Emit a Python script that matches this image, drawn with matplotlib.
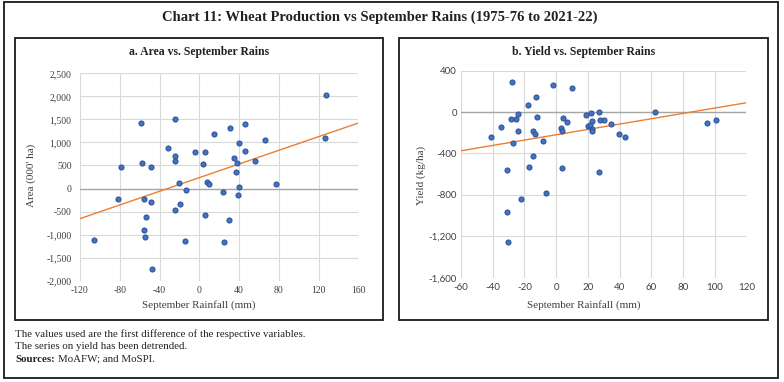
import matplotlib
matplotlib.use("Agg")
import matplotlib.pyplot as plt
from matplotlib.patches import Rectangle
from matplotlib.ticker import FuncFormatter
import numpy as np

plt.rcParams["axes.unicode_minus"] = False

# a. Area vs September rains (first differences)
area_rain = [-105.6, -81.4, -79.1, -58.6, -58.0, -55.3, -53.6, -55.6, -55.0, -48.2,
             -48.2, -47.2, -31.8, -24.4, -24.8, -24.4, -24.4, -20.4, -19.7, -13.0,
             -14.0, -4.3, 4.1, 6.1, 5.8, 7.8, 9.8, 14.8, 24.2, 25.2,
             30.2, 31.2, 34.6, 36.6, 37.6, 39.3, 40.0, 40.0, 45.7, 46.3,
             55.7, 65.8, 76.8, 126.1, 127.1]
area_chg = [-1110, -235, 467, 1422, 554, -220, -611, -908, -1052, 467,
            -293, -1754, 872, 1509, 706, 604, -474, 127, -336, -40,
            -1139, 792, 532, 800, -568, 134, 105, 1183, -68, -1154,
            -691, 1321, 662, 366, 554, -134, 988, 40, 821, 1393,
            604, 1046, 91, 1096, 2030]

# b. Yield vs September rains (detrended)
yield_rain = [-41.3, -34.6, -28.7, -27.9, -27.3, -25.6, -24.1, -24.1, -31.0, -30.8,
              -30.4, -22.0, -18.0, -17.4, -14.5, -14.3, -13.2, -12.6, -11.8, -8.0,
              -6.1, -2.1, 3.1, 4.0, 4.4, 4.0, 7.1, 10.1, 19.1, 20.3,
              21.2, 21.8, 22.4, 22.9, 22.9, 26.8, 26.8, 27.7, 30.2, 34.6,
              39.4, 43.2, 62.3, 95.4, 100.9]
yield_chg = [-241, -147, -64, 287, -302, -64, -19, -180, -563, -965,
             -1255, -840, 68, -527, -421, -186, -212, 146, -48, -279,
             -779, 258, -157, -180, -54, -540, -93, 233, -25, -138,
             -122, -6, -163, -89, -186, 0, -576, -77, -80, -115,
             -209, -238, 0, -102, -73]

notes = ["The values used are the first difference of the respective variables.",
         "The series on yield has been detrended."]

BLUE = "#4472C4"
EDGE = "#2F5597"
ORANGE = "#ED7D31"
SERIF = "Liberation Serif"
SANS = "Lato"

W, H = 784, 382
fig = plt.figure(figsize=(W / 100, H / 100), dpi=100)


def px(x0, y0, x1, y1):
    # pixel box -> figure fraction [left, bottom, width, height]
    return [x0 / W, 1 - y1 / H, (x1 - x0) / W, (y1 - y0) / H]


# outer frame and panel frames
for box in [(4, 2, 778, 378), (15, 38, 383, 320), (399, 38, 768, 320)]:
    l, b, w, h = px(*box)
    fig.add_artist(Rectangle((l, b), w, h, transform=fig.transFigure,
                             fill=False, ec="#1a1a1a", lw=1.3))

fig.text(380 / W, 1 - 17 / H, "Chart 11: Wheat Production vs September Rains (1975-76 to 2021-22)",
         ha="center", va="center", fontsize=10.5, fontweight="bold", family=SERIF, color="#222222")


def panel(rect, xs, ys, xlim, xstep, ylim, ystep, title, ylabel, tick_font, pad, box_cx, ylabel_x):
    ax = fig.add_axes(px(*rect))
    ax.set_xlim(*xlim)
    ax.set_ylim(*ylim)
    ax.set_xticks(np.arange(xlim[0], xlim[1] + 1, xstep))
    ax.set_yticks(np.arange(ylim[0], ylim[1] + 1, ystep))
    ax.grid(True, color="#D9D9D9", lw=0.8)
    ax.set_axisbelow(True)
    for s in ax.spines.values():
        s.set_visible(False)
    ax.tick_params(length=0, labelsize=7, colors="#404040")
    ax.tick_params(axis="y", pad=pad)
    ax.tick_params(axis="x", pad=4)
    for lab in ax.get_xticklabels() + ax.get_yticklabels():
        lab.set_family(tick_font)
    ax.yaxis.set_major_formatter(FuncFormatter(lambda v, p: f"{v:,.0f}"))
    ax.axhline(0, color="#A6A6A6", lw=1.0, zorder=1)

    # linear trend
    k, c = np.polyfit(xs, ys, 1)
    tx = np.array(xlim, dtype=float)
    ax.plot(tx, k * tx + c, color=ORANGE, lw=1.0, zorder=2)
    ax.plot(xs, ys, "o", ms=3.6, mfc=BLUE, mec=EDGE, mew=0.8, zorder=3)

    ax.set_xlabel("September Rainfall (mm)", family=SERIF, fontsize=8, color="#404040")
    ax.set_ylabel(ylabel, family=SERIF, fontsize=8, color="#404040")
    ax.xaxis.set_label_coords(box_cx / W, 1 - 305 / H, transform=fig.transFigure)
    ax.yaxis.set_label_coords(ylabel_x / W, 1 - 175 / H, transform=fig.transFigure)
    ax.xaxis.label.set_va("center")
    ax.yaxis.label.set_va("center")
    fig.text(box_cx / W, 1 - 52 / H, title, ha="center", va="center",
             fontsize=8.5, fontweight="bold", family=SERIF, color="#222222")
    return ax


panel((80, 73.3, 358.3, 280.7), area_rain, area_chg, (-120, 160), 40, (-2000, 2500), 500,
      "a. Area vs. September Rains", "Area (000' ha)", SERIF, 6, 199, 31)
panel((461, 70.7, 746.3, 277.7), yield_rain, yield_chg, (-60, 120), 20, (-1600, 400), 400,
      "b. Yield vs. September Rains", "Yield (kg/ha)", SANS, 3, 584, 421)

y = 334
for line in notes:
    fig.text(15 / W, 1 - y / H, line, ha="left", va="center", fontsize=7.8, family=SERIF, color="#222222")
    y += 12.5
src = fig.text(15 / W, 1 - y / H, "Sources:", ha="left", va="center", fontsize=7.8,
               family=SERIF, fontweight="bold", color="#222222")
# place the rest right after the bold label
bb = src.get_window_extent(renderer=fig.canvas.get_renderer())
fig.text(bb.x1 / W + 3 / W, 1 - y / H, "MoAFW; and MoSPI.", ha="left", va="center", fontsize=7.8,
         family=SERIF, color="#222222")

fig.savefig("out.png", dpi=100)
